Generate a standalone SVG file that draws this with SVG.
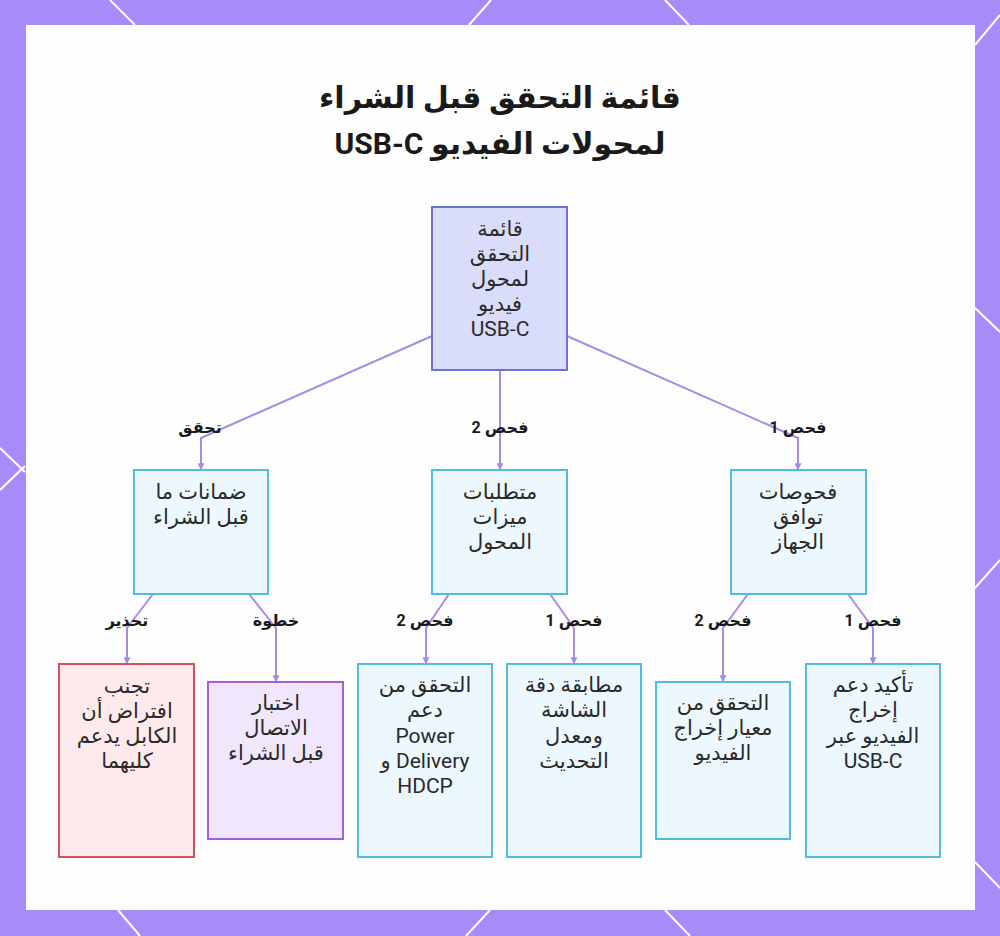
<svg xmlns="http://www.w3.org/2000/svg" width="1000" height="936" viewBox="0 0 1000 936">
<defs>
<style>
.bgline{stroke:#ffffff;stroke-width:2;fill:none}
.edge{stroke:#a98be6;stroke-width:2;fill:none}
.root{fill:#dadcfc;stroke:#6c72d6;stroke-width:2}
.blue{fill:#edf8fe;stroke:#52bbe0;stroke-width:2}
.red{fill:#feeaed;stroke:#d4505e;stroke-width:2}
.purple{fill:#f1e7fd;stroke:#a25fd8;stroke-width:2}
text{font-family:Roboto,"Noto Sans","DejaVu Sans",sans-serif;direction:rtl;unicode-bidi:embed;text-anchor:middle;fill:#2a2a2a}
.nt{font-size:21px}
.lbl{font-size:16px;font-weight:bold;fill:#1a1a1a}
.title{font-size:30px;font-weight:bold;fill:#1a1a1a}
</style>
<marker id="arr" viewBox="0 0 6 6" refX="5" refY="3" markerWidth="3.5" markerHeight="3.5" orient="auto">
<path d="M0,0 L6,3 L0,6 z" fill="#a98be6"/>
</marker>
</defs>
<rect x="0" y="0" width="1000" height="936" fill="#a68bf9"/>
<g id="bg-lines">
<path class="bgline" d="M110,0 L135,25"/>
<path class="bgline" d="M491,0 L469,25"/>
<path class="bgline" d="M665,0 L689,25"/>
<path class="bgline" d="M1000,15 L975,45"/>
<path class="bgline" d="M975,308 L1000,332"/>
<path class="bgline" d="M1000,560 L975,588"/>
<path class="bgline" d="M975,862 L1000,888"/>
<path class="bgline" d="M0,448 L25,472"/>
<path class="bgline" d="M0,490 L25,466"/>
<path class="bgline" d="M118,910 L140,936"/>
<path class="bgline" d="M490,910 L466,936"/>
<path class="bgline" d="M665,910 L690,936"/>
</g>
<rect x="26" y="25" width="949" height="885" fill="#fefefe"/>
<circle cx="918" cy="856" r="42" fill="none" stroke="#ffffff" stroke-width="1.5" opacity="0.9"/>
<g id="title">
<text class="title" x="500" y="108">قائمة التحقق قبل الشراء</text>
<text class="title" x="500" y="154">لمحولات الفيديو USB-C</text>
</g>
<g id="connectors">
<path class="edge" d="M432,336 L201,438 L201,469" marker-end="url(#arr)"/>
<path class="edge" d="M500,370 L500,469" marker-end="url(#arr)"/>
<path class="edge" d="M567,336 L798,438 L798,469" marker-end="url(#arr)"/>
<path class="edge" d="M153,594 L127,628 L127,663" marker-end="url(#arr)"/>
<path class="edge" d="M249,594 L276,628 L276,681" marker-end="url(#arr)"/>
<path class="edge" d="M449,594 L426,628 L426,663" marker-end="url(#arr)"/>
<path class="edge" d="M550,594 L574,628 L574,663" marker-end="url(#arr)"/>
<path class="edge" d="M748,594 L723,628 L723,681" marker-end="url(#arr)"/>
<path class="edge" d="M848,594 L873,628 L873,663" marker-end="url(#arr)"/>
<text class="lbl" x="200" y="433">تحقق</text>
<text class="lbl" x="500" y="433">فحص 2</text>
<text class="lbl" x="798" y="433">فحص 1</text>
<text class="lbl" x="127" y="626">تحذير</text>
<text class="lbl" x="276" y="626">خطوة</text>
<text class="lbl" x="425" y="626">فحص 2</text>
<text class="lbl" x="574" y="626">فحص 1</text>
<text class="lbl" x="723" y="626">فحص 2</text>
<text class="lbl" x="873" y="626">فحص 1</text>
</g>
<g id="root">
<rect class="root" x="432" y="207" width="135" height="163"/>
<text class="nt" x="500" y="236">قائمة</text>
<text class="nt" x="500" y="261">التحقق</text>
<text class="nt" x="500" y="286">لمحول</text>
<text class="nt" x="500" y="311">فيديو</text>
<text class="nt" x="500" y="336">USB-C</text>
</g>
<g id="n-guarantees">
<rect class="blue" x="134" y="470" width="134" height="124"/>
<text class="nt" x="201" y="499">ضمانات ما</text>
<text class="nt" x="201" y="524">قبل الشراء</text>
</g>
<g id="n-features">
<rect class="blue" x="432" y="470" width="135" height="124"/>
<text class="nt" x="500" y="499">متطلبات</text>
<text class="nt" x="500" y="524">ميزات</text>
<text class="nt" x="500" y="549">المحول</text>
</g>
<g id="n-compat">
<rect class="blue" x="731" y="470" width="135" height="124"/>
<text class="nt" x="798" y="499">فحوصات</text>
<text class="nt" x="798" y="524">توافق</text>
<text class="nt" x="798" y="549">الجهاز</text>
</g>
<g id="n-avoid">
<rect class="red" x="59" y="664" width="135" height="193"/>
<text class="nt" x="127" y="693">تجنب</text>
<text class="nt" x="127" y="718">افتراض أن</text>
<text class="nt" x="127" y="743">الكابل يدعم</text>
<text class="nt" x="127" y="768">كليهما</text>
</g>
<g id="n-test">
<rect class="purple" x="208" y="682" width="135" height="157"/>
<text class="nt" x="276" y="710">اختبار</text>
<text class="nt" x="276" y="735">الاتصال</text>
<text class="nt" x="276" y="760">قبل الشراء</text>
</g>
<g id="n-power">
<rect class="blue" x="358" y="664" width="134" height="193"/>
<text class="nt" x="425" y="692">التحقق من</text>
<text class="nt" x="425" y="717">دعم</text>
<text class="nt" x="425" y="743">Power</text>
<text class="nt" x="425" y="768">Delivery و</text>
<text class="nt" x="425" y="793">HDCP</text>
</g>
<g id="n-resolution">
<rect class="blue" x="507" y="664" width="134" height="193"/>
<text class="nt" x="574" y="692">مطابقة دقة</text>
<text class="nt" x="574" y="717">الشاشة</text>
<text class="nt" x="574" y="743">ومعدل</text>
<text class="nt" x="574" y="768">التحديث</text>
</g>
<g id="n-standard">
<rect class="blue" x="656" y="682" width="134" height="157"/>
<text class="nt" x="723" y="710">التحقق من</text>
<text class="nt" x="723" y="735">معيار إخراج</text>
<text class="nt" x="723" y="760">الفيديو</text>
</g>
<g id="n-confirm">
<rect class="blue" x="806" y="664" width="134" height="193"/>
<text class="nt" x="873" y="692">تأكيد دعم</text>
<text class="nt" x="873" y="717">إخراج</text>
<text class="nt" x="873" y="743">الفيديو عبر</text>
<text class="nt" x="873" y="768">USB-C</text>
</g>
</svg>
